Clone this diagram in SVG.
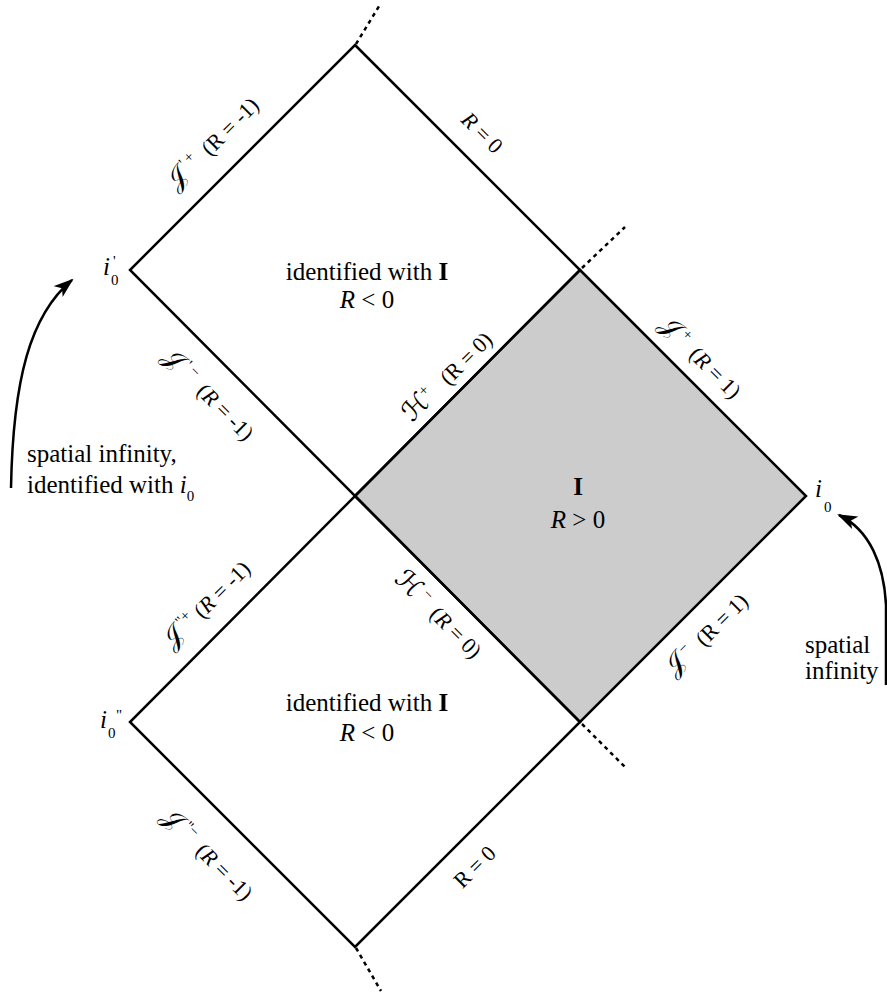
<svg xmlns="http://www.w3.org/2000/svg" width="887" height="995" viewBox="0 0 887 995">
<defs>
<style>
text{font-family:"Liberation Serif","DejaVu Serif",serif;fill:#000}
.m{font-size:25px}
.l{font-size:22px;white-space:pre}
.it{font-style:italic}
.b{font-weight:bold}
.sc{font-family:"DejaVu Serif","DejaVu Sans","Noto Sans",serif;font-size:27px}
.sp{font-size:15px}
.edge{fill:none;stroke:#000;stroke-width:2.5;stroke-linejoin:miter}
.shade{fill:#cccccc;stroke:#000;stroke-width:2.5;stroke-linejoin:miter}
.dash{fill:none;stroke:#000;stroke-width:2.5;stroke-dasharray:4 4}
.arr{fill:none;stroke:#000;stroke-width:2.5;marker-end:url(#ah)}
</style>
<marker id="ah" viewBox="0 0 20 14" refX="18" refY="7" markerWidth="20" markerHeight="14" markerUnits="userSpaceOnUse" orient="auto">
<path d="M0 0 L20 7 L0 14 L5 7 Z" fill="#000"/>
</marker>
</defs>
<rect width="887" height="995" fill="#fff"/>

<g id="regionI">
<path d="M580 270 L806 496 L580 722 L355 496 Z" class="shade"/>
<text class="m b" x="578" y="495" text-anchor="middle">I</text>
<text class="m" x="578" y="528" text-anchor="middle"><tspan class="it">R</tspan> &gt; 0</text>
</g>

<g id="regionTop">
<path d="M355 45 L580 270 L355 496 L130 270 Z" class="edge"/>
<text class="m" x="367" y="280" text-anchor="middle">identified with <tspan class="b">I</tspan></text>
<text class="m" x="367" y="308" text-anchor="middle"><tspan class="it">R</tspan> &lt; 0</text>
</g>

<g id="regionBottom">
<path d="M355 496 L580 722 L355 947 L130 722 Z" class="edge"/>
<text class="m" x="367" y="711" text-anchor="middle">identified with <tspan class="b">I</tspan></text>
<text class="m" x="367" y="741" text-anchor="middle"><tspan class="it">R</tspan> &lt; 0</text>
</g>

<g id="connectors">
<path class="dash" d="M356 44 L381 3"/>
<path class="dash" d="M582 268 L625 227"/>
<path class="dash" d="M582 724 L625 767"/>
<path class="dash" d="M356 948 L381 991"/>
<path class="arr" d="M11 488 C13 380 30 315 72 280"/>
<path class="arr" d="M886 685 L886 605 C884 565 870 530 839 515"/>
</g>

<g id="labels">
<g transform="translate(213,144) rotate(-45)"><text class="l" x="0" y="7" text-anchor="middle"><tspan class="sc">𝒥</tspan><tspan class="sp" dy="-10"> ' +</tspan><tspan dy="10">  (R = -1)</tspan></text></g>
<g transform="translate(482,133) rotate(45)"><text class="l" x="0" y="7" text-anchor="middle"><tspan class="it">R</tspan> = 0</text></g>
<g transform="translate(208,395) rotate(45)"><text class="l" x="0" y="7" text-anchor="middle"><tspan class="sc">𝒥</tspan><tspan class="sp" dy="-10"> ' −</tspan><tspan dy="10">  (<tspan class="it">R</tspan> = -1)</tspan></text></g>
<g transform="translate(448,377) rotate(-45)"><text class="l" x="0" y="7" text-anchor="middle"><tspan class="sc">ℋ</tspan><tspan class="sp" dy="-10">+</tspan><tspan dy="10">   (R = 0)</tspan></text></g>
<g transform="translate(700,358) rotate(45)"><text class="l" x="0" y="7" text-anchor="middle"><tspan class="sc">𝒥</tspan><tspan class="sp" dy="-10"> +</tspan><tspan dy="10">  (<tspan class="it">R</tspan> = 1)</tspan></text></g>
<g transform="translate(438,615) rotate(45)"><text class="l" x="0" y="7" text-anchor="middle"><tspan class="sc">ℋ</tspan><tspan class="sp" dy="-10"> −</tspan><tspan dy="10">  (<tspan class="it">R</tspan> = 0)</tspan></text></g>
<g transform="translate(707,635) rotate(-45)"><text class="l" x="0" y="7" text-anchor="middle"><tspan class="sc">𝒥</tspan><tspan class="sp" dy="-10"> −</tspan><tspan dy="10">  (R = 1)</tspan></text></g>
<g transform="translate(207,605) rotate(-45)"><text class="l" x="0" y="7" text-anchor="middle"><tspan class="sc">𝒥</tspan><tspan class="sp" dy="-10"> "+</tspan><tspan dy="10"> (<tspan class="it">R</tspan> = -1)</tspan></text></g>
<g transform="translate(207,855) rotate(45)"><text class="l" x="0" y="7" text-anchor="middle"><tspan class="sc">𝒥</tspan><tspan class="sp" dy="-10"> "−</tspan><tspan dy="10">  (<tspan class="it">R</tspan> = -1)</tspan></text></g>
<g transform="translate(475,867) rotate(-45)"><text class="l" x="0" y="7" text-anchor="middle">R = 0</text></g>
</g>

<g id="i0-right">
<text class="m it" x="815" y="497">i</text>
<text x="824" y="512" font-size="15">0</text>
</g>
<g id="i0-prime">
<text class="m it" x="103" y="275">i</text>
<text x="111" y="285" font-size="15">0</text>
<text x="113" y="266" font-size="15">'</text>
</g>
<g id="i0-dprime">
<text class="m it" x="100" y="728">i</text>
<text x="108" y="738" font-size="15">0</text>
<text x="116" y="720" font-size="15">"</text>
</g>

<g id="note-left">
<text class="m" x="27" y="462">spatial infinity,</text>
<text class="m" x="27" y="493">identified with <tspan class="it">i</tspan><tspan font-size="15" dy="8">0</tspan></text>
</g>
<g id="note-right">
<text class="m" x="805" y="653">spatial</text>
<text class="m" x="805" y="679">infinity</text>
</g>
</svg>
